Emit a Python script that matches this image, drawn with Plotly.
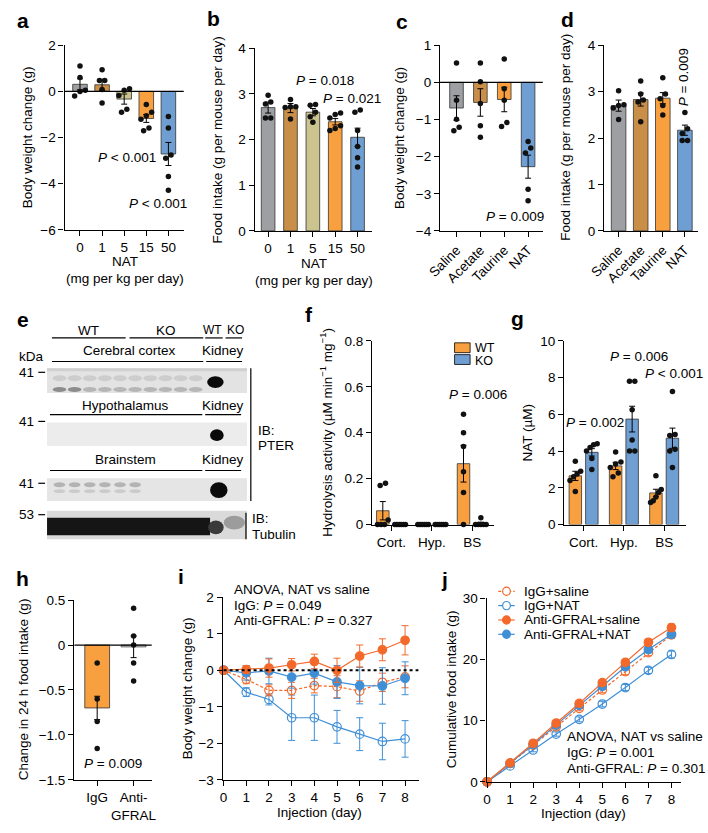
import plotly.graph_objects as go

W, H = 708, 833
FONT = "Liberation Sans, Arial, Helvetica, sans-serif"
FS = 13.5

# ---------------- data ----------------
# a: body weight change vs NAT dose
a_doses = ["0", "1", "5", "15", "50"]
a_mean = [0.31, 0.29, -0.33, -1.17, -2.71]
a_sem = [0.24, 0.24, 0.22, 0.17, 0.5]
a_points = [[1.1, 0.61, 0.05, 0.0, -0.2],
            [0.94, 0.47, 0.47, 0.08, -0.5],
            [0.12, 0.05, -0.17, -0.9, -0.77],
            [-0.57, -0.9, -1.05, -1.2, -1.58, -1.7],
            [-1.09, -1.58, -2.75, -2.89, -3.69, -4.28]]
ab_colors = ["#9e9fa2", "#c98f49", "#cbc48e", "#f8a03f", "#6f9fd2"]

# b: food intake vs NAT dose
b_mean = [2.70, 2.69, 2.60, 2.39, 2.05]
b_sem = [0.12, 0.1, 0.08, 0.07, 0.2]
b_points = [[2.97, 2.82, 2.78, 2.47, 2.47],
            [2.88, 2.72, 2.72, 2.7, 2.45],
            [2.77, 2.75, 2.6, 2.5, 2.38],
            [2.58, 2.55, 2.47, 2.3, 2.24, 2.2],
            [2.6, 2.65, 2.2, 1.85, 1.6, 1.4]]

# c/d: treatments
cd_treat = ["Saline", "Acetate", "Taurine", "NAT"]
cd_colors = ["#9e9fa2", "#c98f49", "#f8a03f", "#6f9fd2"]
c_mean = [-0.69, -0.54, -0.46, -2.27]
c_sem = [0.33, 0.37, 0.33, 0.31]
c_points = [[0.52, -0.48, -0.99, -1.21, -1.3],
            [0.52, 0.02, -0.57, -1.17, -1.48],
            [0.63, -0.17, -0.48, -1.08, -1.19],
            [-1.59, -1.77, -1.9, -2.88, -3.19]]
d_mean = [2.70, 2.83, 2.86, 2.17]
d_sem = [0.12, 0.14, 0.12, 0.11]
d_points = [[3.02, 2.72, 2.7, 2.65, 2.4],
            [3.23, 2.95, 2.78, 2.82, 2.35],
            [3.3, 2.95, 2.85, 2.7, 2.5],
            [2.55, 2.2, 2.1, 1.95, 1.95]]

# f/g: tissues, WT vs KO
fg_tissues = ["Cort.", "Hyp.", "BS"]
f_wt_mean = [0.06, 0.0, 0.265]
f_wt_sem = [0.04, 0.0, 0.08]
f_ko_mean = [0.0, 0.0, 0.005]
f_ko_sem = [0.0, 0.0, 0.005]
f_wt_points = [[0.18, 0.17, 0.02, 0.0, 0.0, 0.0],
               [0.0, 0.0, 0.0, 0.0, 0.0, 0.0],
               [0.48, 0.40, 0.34, 0.23, 0.14, 0.0]]
f_ko_points = [[0.0, 0.0, 0.0, 0.0, 0.0, 0.0],
               [0.0, 0.0, 0.0, 0.0, 0.0, 0.0],
               [0.03, 0.0, 0.0, 0.0, 0.0, 0.0]]
g_wt_mean = [2.65, 3.19, 1.72]
g_wt_sem = [0.25, 0.2, 0.2]
g_ko_mean = [3.93, 5.74, 4.7]
g_ko_sem = [0.2, 0.7, 0.55]
g_wt_points = [[3.45, 2.9, 2.75, 2.6, 2.4, 1.8],
               [3.95, 3.4, 3.3, 3.1, 2.8, 2.6],
               [2.65, 1.9, 1.75, 1.5, 1.3, 1.2]]
g_ko_points = [[4.4, 4.35, 4.2, 4.0, 3.6, 3.0],
               [7.8, 7.8, 6.25, 4.6, 4.0, 4.0],
               [7.25, 4.9, 4.85, 4.1, 4.0, 3.1]]
WT_COLOR = "#f8a03f"
KO_COLOR = "#6f9fd2"

# h
h_groups = ["IgG", "Anti-<br>GFRAL"]
h_mean = [-0.7, -0.02]
h_sem = [0.13, 0.12]
h_points = [[-0.2, -0.6, -0.85, -1.15],
            [0.41, 0.1, 0.0, -0.2, -0.4]]
h_colors = ["#f8a03f", "#ffffff"]

# i: body weight change over injections
days = [0, 1, 2, 3, 4, 5, 6, 7, 8]
i_igg_sal = [0, -0.25, -0.55, -0.55, -0.42, -0.45, -0.57, -0.33, -0.18]
i_igg_sal_err = [0, 0.12, 0.15, 0.22, 0.2, 0.3, 0.28, 0.25, 0.3]
i_igg_nat = [0, -0.6, -0.8, -1.3, -1.3, -1.55, -1.75, -1.95, -1.88]
i_igg_nat_err = [0, 0.12, 0.15, 0.62, 0.62, 0.45, 0.45, 0.5, 0.5]
i_ag_sal = [0, 0.02, 0.06, 0.15, 0.24, 0.0, 0.39, 0.56, 0.82]
i_ag_sal_err = [0, 0.1, 0.25, 0.17, 0.2, 0.33, 0.3, 0.3, 0.4]
i_ag_nat = [0, -0.07, -0.02, -0.19, -0.08, -0.32, -0.42, -0.43, -0.22]
i_ag_nat_err = [0, 0.2, 0.35, 0.3, 0.3, 0.45, 0.5, 0.5, 0.45]

# j: cumulative food intake
j_igg_sal = [0, 3.0, 6.0, 9.0, 12.0, 15.0, 18.0, 21.1, 24.0]
j_igg_nat = [0, 2.6, 5.2, 7.8, 10.2, 12.7, 15.4, 18.2, 20.8]
j_ag_sal = [0, 3.1, 6.3, 9.6, 12.8, 16.2, 19.5, 22.8, 25.2]
j_ag_nat = [0, 3.0, 6.1, 9.3, 12.5, 15.6, 18.8, 21.6, 24.1]
j_err = [0, 0.2, 0.3, 0.35, 0.4, 0.45, 0.5, 0.5, 0.55]

ORG = "#f3692b"
BLU = "#3f8fd6"

# ---------------- helpers ----------------
fig = go.Figure()
layout = dict(width=W, height=H, autosize=False,
              margin=dict(l=0, r=0, t=0, b=0),
              paper_bgcolor="white", plot_bgcolor="rgba(0,0,0,0)",
              barmode="overlay", showlegend=False,
              font=dict(family=FONT, size=FS, color="black"))
shapes = []
annots = []


def X(px):
    return px / W


def Y(py):
    return 1 - py / H


def axes(n, box, xr, yr, xt, xtt, yt, ytt, xangle=0):
    x0, x1, y0, y1 = box
    s = "" if n == 1 else str(n)
    common = dict(showline=True, linecolor="black", linewidth=1.3,
                  ticks="outside", ticklen=5, tickwidth=1.2, tickcolor="black",
                  showgrid=False, zeroline=False, fixedrange=True,
                  tickfont=dict(size=FS, family=FONT, color="black"))
    layout["xaxis" + s] = dict(domain=[X(x0), X(x1)], range=xr, anchor="y" + s,
                               tickmode="array", tickvals=xt, ticktext=xtt,
                               tickangle=xangle, **common)
    layout["yaxis" + s] = dict(domain=[Y(y1), Y(y0)], range=yr, anchor="x" + s,
                               tickmode="array", tickvals=yt, ticktext=ytt, **common)
    pxu_x = (x1 - x0) / (xr[1] - xr[0])
    pxu_y = (y1 - y0) / (yr[1] - yr[0])
    return "x" + s, "y" + s, pxu_x, pxu_y


def swarm(vals, pxu_x, pxu_y, maxw, dot=5.5):
    order = sorted(range(len(vals)), key=lambda k: vals[k])
    clusters = []
    for k in order:
        if clusters and abs(vals[k] - vals[clusters[-1][-1]]) * pxu_y < dot:
            clusters[-1].append(k)
        else:
            clusters.append([k])
    offs = [0.0] * len(vals)
    for c in clusters:
        n = len(c)
        step = dot if n < 2 else min(dot, maxw / (n - 1))
        for j, k in enumerate(c):
            offs[k] = (j - (n - 1) / 2) * step / pxu_x
    return offs


def bars(xa, ya, xs, means, sems, colors, width):
    fig.add_trace(go.Bar(x=xs, y=means, width=width, xaxis=xa, yaxis=ya,
                         marker=dict(color=colors, line=dict(color="#333333", width=0.8)),
                         error_y=dict(type="data", array=sems, color="black",
                                      thickness=1, width=3),
                         showlegend=False, hoverinfo="skip"))


def dots(xa, ya, xs, pts, pxu_x, pxu_y, maxw):
    px, py = [], []
    for xc, vals in zip(xs, pts):
        offs = swarm(vals, pxu_x, pxu_y, maxw)
        for v, o in zip(vals, offs):
            px.append(xc + o)
            py.append(v)
    fig.add_trace(go.Scatter(x=px, y=py, mode="markers", xaxis=xa, yaxis=ya,
                             marker=dict(color="#111111", size=5.5),
                             cliponaxis=False, showlegend=False, hoverinfo="skip"))


def hline_data(xa, ya, x0, x1, y, dash="solid", width=1.3):
    shapes.append(dict(type="line", xref=xa, yref=ya, x0=x0, x1=x1, y0=y, y1=y,
                       line=dict(color="black", width=width, dash=dash), layer="above"))


def txt(s, x, y, size=FS, xa="center", ya="middle", angle=0):
    annots.append(dict(text=s, x=X(x), y=Y(y), xref="paper", yref="paper",
                       showarrow=False, xanchor=xa, yanchor=ya, textangle=angle,
                       font=dict(size=size, family=FONT, color="black")))


def pline(x0, x1, y, w=1.2, color="black"):
    shapes.append(dict(type="line", xref="paper", yref="paper", x0=X(x0), x1=X(x1),
                       y0=Y(y), y1=Y(y), line=dict(color=color, width=w), layer="above"))


def vline(x, y0, y1, w=1.2):
    shapes.append(dict(type="line", xref="paper", yref="paper", x0=X(x), x1=X(x),
                       y0=Y(y0), y1=Y(y1), line=dict(color="black", width=w), layer="above"))


def prect(x0, y0, x1, y1, fill, lw=0, lc="black", kind="rect"):
    shapes.append(dict(type=kind, xref="paper", yref="paper", x0=X(x0), x1=X(x1),
                       y0=Y(y1), y1=Y(y0), fillcolor=fill,
                       line=dict(width=lw, color=lc), layer="above"))


def minus(v):
    s = ("%g" % v)
    return s.replace("-", "\u2212")


# ---------------- panel a ----------------
xa, ya, ux, uy = axes(1, (50, 173, 39, 227), [-0.7, 4.7], [-6, 2],
                      list(range(5)), a_doses, [-6, -4, -2, 0, 2],
                      [minus(v) for v in [-6, -4, -2, 0, 2]])
bars(xa, ya, list(range(5)), a_mean, a_sem, ab_colors, 0.66)
dots(xa, ya, list(range(5)), a_points, ux, uy, 12)
hline_data(xa, ya, -0.7, 4.7, 0)
txt("<b>a</b>", 7, 14, size=21)
txt("Body weight change (g)", 12, 133, angle=-90)
txt("NAT", 112, 259)
txt("(mg per kg per day)", 112, 276)
txt("<i>P</i> < 0.001", 114, 153)
txt("<i>P</i> < 0.001", 146, 200)

# ---------------- panel b ----------------
xa, ya, ux, uy = axes(2, (246, 367, 42, 228), [-0.6, 4.65], [0, 4],
                      list(range(5)), a_doses, [0, 1, 2, 3, 4],
                      ["0", "1", "2", "3", "4"])
bars(xa, ya, list(range(5)), b_mean, b_sem, ab_colors, 0.61)
dots(xa, ya, list(range(5)), b_points, ux, uy, 12)
txt("<b>b</b>", 204, 12, size=21)
txt("Food intake (g per mouse per day)", 208, 135, angle=-90)
txt("NAT", 307, 261)
txt("(mg per kg per day)", 307, 279)
txt("<i>P</i> = 0.018", 318, 75)
txt("<i>P</i> = 0.021", 346, 93)

# ---------------- panel c ----------------
xa, ya, ux, uy = axes(3, (437, 543, 39, 228), [-0.69, 3.62], [-4, 1],
                      list(range(4)), cd_treat, [-4, -3, -2, -1, 0, 1],
                      [minus(v) for v in [-4, -3, -2, -1, 0, 1]], xangle=-45)
bars(xa, ya, list(range(4)), c_mean, c_sem, cd_colors, 0.57)
dots(xa, ya, list(range(4)), c_points, ux, uy, 12)
hline_data(xa, ya, -0.69, 3.62, 0)
txt("<b>c</b>", 398, 15, size=21)
txt("Body weight change (g)", 395, 133, angle=-90)
txt("<i>P</i> = 0.009", 514, 213)

# ---------------- panel d ----------------
xa, ya, ux, uy = axes(4, (606, 703, 39, 228), [-0.66, 3.6], [0, 4],
                      list(range(4)), cd_treat, [0, 1, 2, 3, 4],
                      ["0", "1", "2", "3", "4"], xangle=-45)
bars(xa, ya, list(range(4)), d_mean, d_sem, cd_colors, 0.66)
dots(xa, ya, list(range(4)), d_points, ux, uy, 12)
txt("<b>d</b>", 568, 13, size=21)
txt("Food intake (g per mouse per day)", 566, 133, angle=-90)
txt("<i>P</i> = 0.009", 688, 72, angle=-90)

# ---------------- panel e (blot) ----------------
txt("<b>e</b>", 7, 318, size=21)
txt("WT", 75, 329)
txt("KO", 155, 329)
txt("WT", 203, 329, size=12)
txt("KO", 226, 329, size=12)
pline(37, 113, 337)
pline(117, 193, 337)
pline(195, 213, 337)
pline(216, 233, 337)
txt("Cerebral cortex", 117, 350)
txt("Kidney", 213, 350)
txt("kDa", 1, 356, xa="left")
pline(37, 193, 361)
pline(196, 233, 361)
lanes = [37 + 15.6 * (k + 0.5) for k in range(10)]
# blot 1
prect(32, 368, 238, 393, "#e3e3e3")
prect(32, 368, 238, 371, "#d0d0d0")
for k, lx in enumerate(lanes):
    prect(lx - 7, 375, lx + 7, 381, "#cdcdcd", kind="circle")
    prect(lx - 7, 387, lx + 7, 392, "#8c8c8c" if k < 2 else "#b6b6b6", kind="circle")
prect(197, 376, 214, 388, "#0a0a0a", kind="circle")
txt("41", 21, 372, xa="right")
pline(23, 30, 372)
# blot 2
txt("Hypothalamus", 113, 406)
txt("Kidney", 213, 406)
pline(35, 192, 415)
pline(195, 232, 415)
prect(32, 423, 238, 447, "#ececec")
prect(200, 430, 214, 442, "#0a0a0a", kind="circle")
txt("41", 21, 422, xa="right")
pline(23, 30, 422)
# blot 3
txt("Brainstem", 113, 461)
txt("Kidney", 213, 461)
pline(35, 192, 472)
pline(195, 232, 472)
prect(32, 480, 238, 503, "#e5e5e5")
for k, lx in enumerate(lanes[:6]):
    prect(lx - 6, 484, lx + 6, 489, "#b3b3b3", kind="circle")
    prect(lx - 6, 491, lx + 6, 495, "#cbcbcb", kind="circle")
prect(200, 484, 218, 500, "#0a0a0a", kind="circle")
txt("41", 21, 485, xa="right")
pline(23, 30, 485)
vline(242, 368, 503)
txt("IB:", 247, 431, xa="left")
txt("PTER", 247, 447, xa="left")
# blot 4 tubulin
prect(32, 513, 238, 542, "#dadada")
prect(32, 520, 200, 538, "#151515")
prect(198, 523, 214, 537, "#3a3a3a", kind="circle")
prect(214, 518, 236, 532, "#9c9c9c", kind="circle")
vline(237, 515, 542)
txt("53", 21, 517, xa="right")
pline(23, 30, 517)
txt("IB:", 241, 521, xa="left")
txt("Tubulin", 241, 537, xa="left")

# ---------------- panel f ----------------
xa, ya, ux, uy = axes(5, (367, 493, 340, 527), [-0.48, 2.55], [0, 0.8],
                      [0, 1, 2], fg_tissues, [0, 0.2, 0.4, 0.6, 0.8],
                      ["0", "0.2", "0.4", "0.6", "0.8"])
wx = [g - 0.215 for g in range(3)]
kx = [g + 0.215 for g in range(3)]
bars(xa, ya, wx, f_wt_mean, f_wt_sem, [WT_COLOR] * 3, 0.31)
bars(xa, ya, kx, f_ko_mean, f_ko_sem, [KO_COLOR] * 3, 0.31)
dots(xa, ya, wx, f_wt_points, ux, uy, 11)
dots(xa, ya, kx, f_ko_points, ux, uy, 11)
txt("<b>f</b>", 302, 313, size=21)
txt("Hydrolysis activity (\u00b5M min<sup>\u22121</sup> mg<sup>\u22121</sup>)", 320, 433, angle=-90)
prect(452, 342, 468, 352, WT_COLOR, lw=0.8)
prect(452, 354, 468, 364, KO_COLOR, lw=0.8)
txt("WT", 471, 347, size=12.5, xa="left")
txt("KO", 471, 360, size=12.5, xa="left")
txt("<i>P</i> = 0.006", 476, 395)

# ---------------- panel g ----------------
xa, ya, ux, uy = axes(6, (565, 690, 340, 527), [-0.48, 2.53], [0, 10],
                      [0, 1, 2], fg_tissues, [0, 2, 4, 6, 8, 10],
                      ["0", "2", "4", "6", "8", "10"])
wx = [g - 0.205 for g in range(3)]
kx = [g + 0.205 for g in range(3)]
bars(xa, ya, wx, g_wt_mean, g_wt_sem, [WT_COLOR] * 3, 0.31)
bars(xa, ya, kx, g_ko_mean, g_ko_sem, [KO_COLOR] * 3, 0.31)
dots(xa, ya, wx, g_wt_points, ux, uy, 11)
dots(xa, ya, kx, g_ko_points, ux, uy, 11)
txt("<b>g</b>", 517, 317, size=21)
txt("NAT (\u00b5M)", 527, 433, angle=-90)
txt("<i>P</i> = 0.002", 597, 423)
txt("<i>P</i> = 0.006", 642, 356)
txt("<i>P</i> < 0.001", 678, 373)

# ---------------- panel h ----------------
xa, ya, ux, uy = axes(7, (60, 140, 604, 787), [-0.63, 1.5], [-1.5, 0.5],
                      [0, 1], h_groups, [-1.5, -1.0, -0.5, 0, 0.5],
                      ["\u22121.5", "\u22121.0", "\u22120.5", "0", "0.5"])
bars(xa, ya, [0, 1], h_mean, h_sem, h_colors, 0.68)
dots(xa, ya, [0, 1], h_points, ux, uy, 14)
hline_data(xa, ya, -0.63, 1.5, 0)
txt("<b>h</b>", 7, 582, size=21)
txt("Change in 24 h food intake (g)", 8, 695, angle=-90)
txt("<i>P</i> = 0.009", 100, 770)

# ---------------- panel i ----------------
xa, ya, ux, uy = axes(8, (213, 415, 601, 787), [-0.04, 8.6], [-3, 2],
                      days, [str(d) for d in days], [-3, -2, -1, 0, 1, 2],
                      [minus(v) for v in [-3, -2, -1, 0, 1, 2]])
hline_data(xa, ya, 0, 8.6, 0, dash="dot", width=2)


def series(xa, ya, y, err, color, open_, dash):
    fig.add_trace(go.Scatter(
        x=days, y=y, xaxis=xa, yaxis=ya, mode="lines+markers",
        line=dict(color=color, width=1.2, dash=dash),
        marker=dict(symbol="circle-open" if open_ else "circle", size=8.5,
                    color=color, line=dict(color=color, width=1.2)),
        error_y=dict(type="data", array=err, color=color, thickness=1, width=3.5),
        cliponaxis=False, showlegend=False, hoverinfo="skip"))


series(xa, ya, i_igg_nat, i_igg_nat_err, BLU, True, "solid")
series(xa, ya, i_igg_sal, i_igg_sal_err, ORG, True, "3px,2px")
series(xa, ya, i_ag_nat, i_ag_nat_err, BLU, False, "solid")
series(xa, ya, i_ag_sal, i_ag_sal_err, ORG, False, "solid")
txt("<b>i</b>", 170, 580, size=21)
txt("Body weight change (g)", 177, 694, angle=-90)
txt("Injection (day)", 313, 820)
txt("ANOVA, NAT vs saline", 223, 593, xa="left")
txt("IgG: <i>P</i> = 0.049", 223, 609, xa="left")
txt("Anti-GFRAL: <i>P</i> = 0.327", 223, 625, xa="left")

# ---------------- panel j ----------------
xa, ya, ux, uy = axes(9, (485, 685, 602, 789), [-0.02, 8.4], [0, 30],
                      days, [str(d) for d in days], [0, 10, 20, 30],
                      ["0", "10", "20", "30"])
series(xa, ya, j_igg_nat, j_err, BLU, True, "solid")
series(xa, ya, j_igg_sal, j_err, ORG, True, "3px,2px")
series(xa, ya, j_ag_nat, j_err, BLU, False, "solid")
series(xa, ya, j_ag_sal, j_err, ORG, False, "solid")
txt("<b>j</b>", 442, 583, size=21)
txt("Cumulative food intake (g)", 449, 695, angle=-90)
txt("Injection (day)", 585, 821)
txt("ANOVA, NAT vs saline", 566, 743, xa="left")
txt("IgG: <i>P</i> = 0.001", 566, 759, xa="left")
txt("Anti-GFRAL: <i>P</i> = 0.301", 566, 775, xa="left")

# manual legend for j
leg = [("IgG+saline", ORG, True, "dash"), ("IgG+NAT", BLU, True, "solid"),
       ("Anti-GFRAL+saline", ORG, False, "solid"), ("Anti-GFRAL+NAT", BLU, False, "solid")]
for r, (name, col, op, ds) in enumerate(leg):
    yy = 595 + r * 14.6
    shapes.append(dict(type="line", xref="paper", yref="paper", x0=X(497), x1=X(514),
                       y0=Y(yy), y1=Y(yy), line=dict(color=col, width=1.2,
                                                     dash="3px,2px" if ds == "dash" else "solid"),
                       layer="above"))
    prect(501.5, yy - 4.2, 509.5, yy + 4.2, "white" if op else col, lw=1.2, lc=col, kind="circle")
    txt(name, 521, yy, xa="left")

layout["shapes"] = shapes
layout["annotations"] = annots
fig.update_layout(**layout)
fig.write_html("out.html", config={"displayModeBar": False},
               post_script="document.body.style.margin='0px';document.body.style.overflow='hidden';")
